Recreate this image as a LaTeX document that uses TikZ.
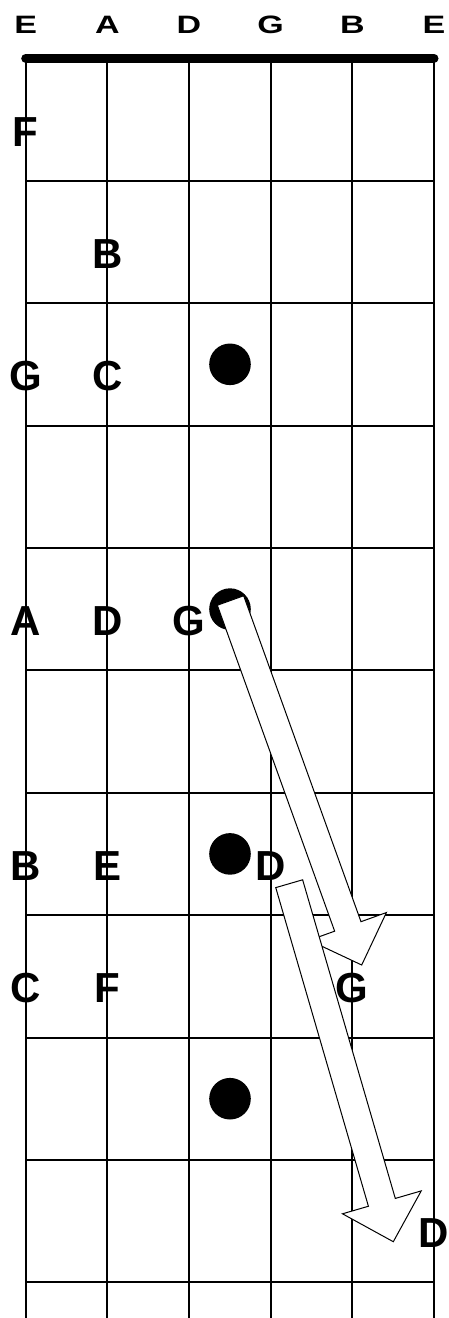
\documentclass[tikz,border=0pt]{standalone}
\usepackage{fontspec}
\setmainfont{Liberation Sans}
\usepackage{graphicx}
\usetikzlibrary{calc}
\begin{document}
\begin{tikzpicture}[x=1pt,y=-1pt,
  grid/.style={line width=2pt, black},
  nut/.style={line width=9pt, line cap=round, black},
  note/.style={font=\fontsize{42}{42}\selectfont\bfseries, inner sep=0pt, anchor=base},
  strlabel/.style={font=\fontsize{34}{34}\selectfont\bfseries, inner sep=0pt, anchor=base},
  fdot/.style={circle, fill=black, minimum size=41.6pt, inner sep=0pt},
  blockarrow/.style={draw=black, fill=white, line width=1pt, line join=miter}
]
\useasboundingbox (0,0) rectangle (449,1318);
% strings
\foreach \i/\x in {1/25.7,2/107.4,3/189.0,4/270.7,5/352.3,6/434.0} {
  \coordinate (top\i) at (\x,58.3);
  \coordinate (bot\i) at (\x,1318);
  \draw[grid] (top\i) -- (bot\i);
}
% frets
\foreach \k in {1,...,10} {
  \draw[grid] (25.7,{58.3+122.4*\k}) -- (434.0,{58.3+122.4*\k});
}
% nut
\draw[nut] (top1) -- (top6);
% open string labels
\foreach \i/\x/\t in {1/25.7/E,2/107.4/A,3/189.0/D,4/270.7/G,5/352.3/B,6/434.0/E} {
  \node[strlabel] (open\i) at (\x,33.5) {\scalebox{1}[0.74]{\t}};
}
% notes
\node[note] (n1) at (25.7,146.0) {F};
\node[note] (n2) at (107.4,268.4) {B};
\node[note] (n3) at (25.7,390.8) {G};
\node[note] (n4) at (107.4,390.8) {C};
\node[note] (n5) at (25.7,635.6) {A};
\node[note] (n6) at (107.4,635.6) {D};
\node[note] (n7) at (189.0,635.6) {G};
\node[note] (n8) at (25.7,880.4) {B};
\node[note] (n9) at (107.4,880.4) {E};
\node[note] (n10) at (270.7,880.4) {D};
\node[note] (n11) at (25.7,1002.8) {C};
\node[note] (n12) at (107.4,1002.8) {F};
\node[note] (n13) at (352.3,1002.8) {G};
\node[note] (n14) at (434.0,1247.6) {D};
% dots
\node[fdot] (d3) at (230,364.3) {};
\node[fdot] (d5) at (230,609.1) {};
\node[fdot] (d7) at (230,853.9) {};
\node[fdot] (d9) at (230,1098.7) {};
% arrows
\coordinate (a1t) at (230.5,600.5);
\coordinate (a1h) at (361.7,965.0);
\coordinate (a2t) at (289.2,883.7);
\coordinate (a2h) at (393.3,1241.7);
\foreach \t/\h in {a1t/a1h,a2t/a2h} {
  \coordinate (hb) at ($(\h)!41pt!(\t)$);
  \draw[blockarrow] ($(\t)!14pt!90:(\h)$) -- ($(hb)!14pt!-90:(\t)$)
    -- ($(hb)!41pt!-90:(\t)$) -- (\h) -- ($(hb)!41pt!90:(\t)$)
    -- ($(hb)!14pt!90:(\t)$) -- ($(\t)!14pt!-90:(\h)$) -- cycle;
}
\end{tikzpicture}
\end{document}
